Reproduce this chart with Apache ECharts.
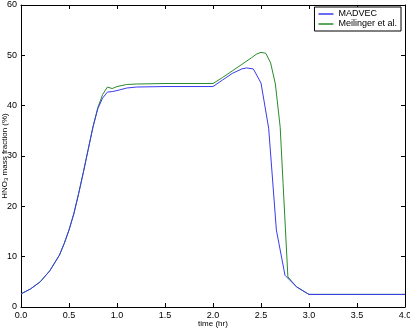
<!DOCTYPE html>
<html>
<head>
<meta charset="utf-8">
<script src="https://cdn.jsdelivr.net/npm/echarts@6/dist/echarts.min.js"></script>
<style>html,body{margin:0;padding:0;background:#fff}#c{width:410px;height:330px}</style>
</head>
<body>
<div id="c"></div>
<script>
var xTicks = ['0.0','0.5','1.0','1.5','2.0','2.5','3.0','3.5','4.0'];
var yTicks = [0,10,20,30,40,50,60];

var madvecTime  = [0,0.1,0.2,0.3,0.4,0.45,0.5,0.55,0.6,0.65,0.7,0.75,0.8,0.85,0.9,0.95,1.0,1.1,1.2,1.5,2.0,2.1,2.2,2.3,2.35,2.42,2.5,2.58,2.66,2.75,2.87,3.0,3.5,4.0];
var madvecValue = [2.6,3.6,5.0,7.2,10.3,12.6,15.3,18.5,22.5,26.8,31.3,35.8,39.4,41.5,42.7,42.8,43.0,43.5,43.7,43.8,43.8,45.1,46.4,47.3,47.5,47.3,44.5,35.5,15.3,6.3,4.0,2.5,2.5,2.5];

var meilTime  = [0,0.1,0.2,0.3,0.4,0.45,0.5,0.55,0.6,0.65,0.7,0.75,0.8,0.85,0.9,0.95,1.0,1.1,1.2,1.5,2.0,2.1,2.2,2.3,2.4,2.45,2.5,2.55,2.6,2.65,2.7,2.73,2.78,2.87,3.0,3.5,4.0];
var meilValue = [2.6,3.6,5.0,7.2,10.3,12.6,15.3,18.5,22.5,26.8,31.3,35.8,39.6,42.2,43.7,43.4,43.8,44.2,44.3,44.4,44.4,45.6,46.9,48.2,49.5,50.2,50.6,50.4,48.5,44.3,35.7,24.5,6.0,4.0,2.5,2.5,2.5];

function pairs(t, v){ return t.map(function(x,i){ return [x, v[i]]; }); }

var FONT = '"Liberation Sans", Arial, sans-serif';
var chart = echarts.init(document.getElementById('c'), null, {renderer:'canvas'});
var axisLine = {show:true, onZero:false, lineStyle:{color:'#000', width:1}};
var tickIn = {show:true, inside:true, length:4, lineStyle:{color:'#000'}};
chart.setOption({
  animation:false,
  backgroundColor:'#fff',
  grid:{left:21, right:5, top:5, bottom:23, containLabel:false, outerBoundsMode:'none'},
  legend:{
    orient:'vertical', right:9, top:7,
    data:[{name:'MADVEC', icon:'rect'},{name:'Meilinger et al.', icon:'rect'}],
    backgroundColor:'#fff', borderColor:'#000', borderWidth:1, borderRadius:0,
    padding:[2,4,2,4], itemWidth:15, itemHeight:1.5, itemGap:0,
    textStyle:{fontFamily:FONT, fontSize:9, color:'#000', lineHeight:10}
  },
  xAxis:[{
    type:'value', min:0, max:4, interval:0.5, position:'bottom',
    axisLine:axisLine, axisTick:tickIn, splitLine:{show:false},
    axisLabel:{fontFamily:FONT, fontSize:9, color:'#000', margin:4,
      formatter:function(v){ var i=Math.round(v/0.5); return xTicks[i]; }},
    name:'time (hr)', nameLocation:'middle', nameGap:13, nameMoveOverlap:false,
    nameTextStyle:{fontFamily:FONT, fontSize:8, color:'#000'}
  },{
    type:'value', min:0, max:4, interval:0.5, position:'top',
    axisLine:axisLine, axisTick:tickIn, axisLabel:{show:false}, splitLine:{show:false}
  }],
  yAxis:[{
    type:'value', min:0, max:60, interval:10, position:'left',
    axisLine:axisLine, axisTick:tickIn, splitLine:{show:false},
    axisLabel:{fontFamily:FONT, fontSize:9, color:'#000', margin:4,
      formatter:function(v){ return String(yTicks[Math.round(v/10)]); }},
    name:'{a|HNO}{s|3}{a| mass fraction (%)}', nameLocation:'middle', nameGap:12, nameRotate:90, nameMoveOverlap:false,
    nameTextStyle:{fontFamily:FONT, fontSize:8, color:'#000',
      rich:{a:{fontFamily:FONT, fontSize:8, color:'#000', lineHeight:10, verticalAlign:'bottom'},
            s:{fontFamily:FONT, fontSize:6, color:'#000', lineHeight:10, verticalAlign:'bottom', padding:[4,0,0,0]}}}
  },{
    type:'value', min:0, max:60, interval:10, position:'right',
    axisLine:axisLine, axisTick:tickIn, axisLabel:{show:false}, splitLine:{show:false}
  }],
  series:[
    {name:'MADVEC', type:'line', data:pairs(madvecTime, madvecValue), symbol:'none',
     lineStyle:{color:'#3a3aee', width:1}, itemStyle:{color:'#3a3aee'}, z:3},
    {name:'Meilinger et al.', type:'line', data:pairs(meilTime, meilValue), symbol:'none',
     lineStyle:{color:'#2a8a2a', width:1}, itemStyle:{color:'#2a8a2a'}, z:2}
  ]
});
</script>
</body>
</html>
